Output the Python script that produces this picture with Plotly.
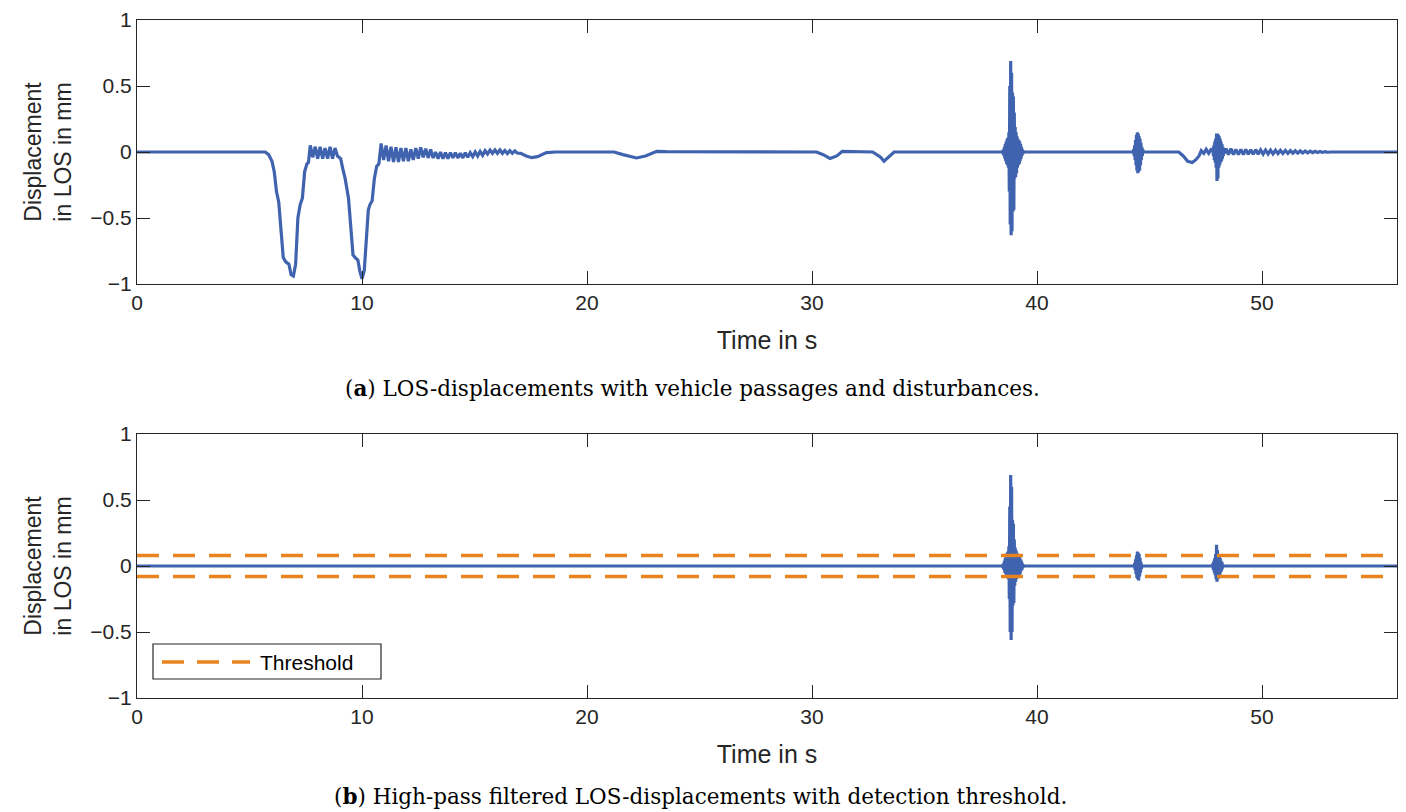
import numpy as np
import plotly.graph_objects as go

# ---------------- data ----------------
# (a) raw LOS displacement, slow parts: time [s], value [mm]
a_slow1_t = [0.0, 5.7, 5.85, 6.0, 6.1, 6.2, 6.3, 6.4, 6.5, 6.6, 6.75, 6.85, 6.95, 7.05, 7.15, 7.25, 7.35, 7.45, 7.55, 7.62]
a_slow1_y = [0.0, 0.0, -0.02, -0.07, -0.15, -0.3, -0.38, -0.6, -0.8, -0.83, -0.85, -0.93, -0.94, -0.85, -0.5, -0.4, -0.35, -0.15, -0.09, -0.08]

# oscillation after first axle group (start, step, values)
a_oscA_t0, a_oscA_dt = 7.7, 0.11
a_oscA_y = [0.05, -0.04, 0.04, -0.05, 0.04, -0.05, 0.03, -0.05, 0.04, -0.05, 0.03, -0.03]

a_slow2_t = [9.05, 9.15, 9.25, 9.4, 9.5, 9.6, 9.7, 9.82, 9.9, 10.0, 10.1, 10.2, 10.28, 10.35, 10.45, 10.55, 10.65, 10.75]
a_slow2_y = [-0.05, -0.13, -0.2, -0.35, -0.6, -0.78, -0.8, -0.82, -0.9, -0.96, -0.9, -0.6, -0.44, -0.4, -0.37, -0.2, -0.11, -0.09]

a_oscB_t0, a_oscB_dt = 10.85, 0.11
a_oscB_y = [0.065, -0.06, 0.05, -0.07, 0.04, -0.075,
            0.035, -0.075, 0.03, -0.07, 0.03, -0.07, 0.02, -0.06, 0.03,
            -0.05, 0.035, -0.04, 0.025, -0.045, 0.02, -0.045,
            0.0, -0.05, 0.0, -0.05, -0.005, -0.05, -0.005, -0.045, -0.005, -0.045, -0.01, -0.045, -0.005, -0.04,
            -0.005, -0.035, 0.0, -0.03, 0.005, -0.025,
            0.01, -0.015, 0.015, -0.01, 0.015, -0.01, 0.015, -0.01, 0.012, -0.012, 0.01, -0.01, 0.008, -0.008]

a_slow3_t = [17.05, 17.3, 17.55, 17.8, 18.2, 18.6, 21.2, 21.6, 22.2, 22.6, 23.1, 23.5, 30.2, 30.5, 30.8, 31.1, 31.35,
             32.7, 32.9, 33.05, 33.2, 33.4, 33.65, 38.43]
a_slow3_y = [-0.01, -0.03, -0.043, -0.035, -0.005, 0.0, 0.0, -0.02, -0.045, -0.03, 0.005, 0.003, 0.0, -0.02, -0.05, -0.03, 0.005,
             0.0, -0.02, -0.04, -0.07, -0.04, 0.0, 0.0]

# disturbance bursts (start, step, values)
a_b1_t0, a_b1_dt = 38.45, 0.02
a_b1_y = [0.0, 0.01, -0.015, 0.02, -0.03, 0.04, -0.05, 0.06, -0.07, 0.08, -0.09, 0.1, -0.1, 0.11, -0.12, 0.15,
          -0.3, 0.5, -0.55, 0.69, -0.63, 0.6, -0.6, 0.45, -0.45, 0.42, -0.44, 0.3, -0.2, 0.19, -0.19, 0.15, -0.16,
          0.12, -0.12, 0.1, -0.1, 0.09, -0.09, 0.08, -0.07, 0.06, -0.05, 0.04, -0.03, 0.02, -0.015, 0.01, -0.005, 0.0]

a_mid1_t = [39.5, 44.26]
a_mid1_y = [0.0, 0.0]

a_b2_t0, a_b2_dt = 44.28, 0.02
a_b2_y = [0.0, 0.02, -0.03, 0.05, -0.06, 0.09, -0.1, 0.13, -0.14, 0.15, -0.16, 0.14, -0.15, 0.12, -0.14, 0.1, -0.1,
          0.07, -0.06, 0.04, -0.03, 0.02, 0.0]

a_slow4_t = [44.8, 46.3, 46.5, 46.7, 46.9, 47.05, 47.2, 47.3, 47.41, 47.52, 47.63, 47.74]
a_slow4_y = [0.0, 0.0, -0.03, -0.07, -0.08, -0.06, -0.03, 0.01, -0.01, 0.02, -0.01, 0.02]

a_b3_t0, a_b3_dt = 47.82, 0.02
a_b3_y = [0.02, -0.03, 0.05, -0.06, 0.08, -0.08, 0.1, -0.12, 0.14, -0.22, 0.14, -0.2, 0.13, -0.12, 0.12, -0.1,
          0.1, -0.08, 0.08, -0.07, 0.06, -0.05, 0.04, -0.03, 0.02, -0.01]

a_oscC_t0, a_oscC_dt = 48.4, 0.11
a_oscC_y = [0.025, -0.02, 0.025, -0.02, 0.02, -0.02, 0.02, -0.02, 0.02, -0.018, 0.018, -0.018, 0.018, -0.016,
            0.016, -0.016, 0.015, -0.015, 0.014, -0.014, 0.013, -0.012, 0.012, -0.011, 0.011, -0.01, 0.01, -0.009,
            0.009, -0.008, 0.008, -0.007, 0.007, -0.006, 0.006, -0.005, 0.005, -0.004, 0.004, -0.003, 0.003, -0.002]

a_end_t = [53.1, 56.0]
a_end_y = [0.0, 0.0]

# (b) high-pass filtered displacement
b_flat1_t = [0.0, 38.43]
b_flat1_y = [0.0, 0.0]
b_b1_t0, b_b1_dt = 38.45, 0.02
b_b1_y = [0.0, 0.01, -0.015, 0.02, -0.03, 0.04, -0.05, 0.06, -0.06, 0.08, -0.08, 0.1, -0.09, 0.11, -0.1, 0.15,
          -0.25, 0.45, -0.5, 0.69, -0.56, 0.6, -0.5, 0.35, -0.3, 0.32, -0.28, 0.2, -0.15, 0.14, -0.12, 0.12, -0.1,
          0.1, -0.09, 0.09, -0.08, 0.08, -0.07, 0.07, -0.06, 0.05, -0.04, 0.04, -0.03, 0.02, -0.015, 0.01, -0.005, 0.0]
b_flat2_t = [39.5, 44.3]
b_flat2_y = [0.0, 0.0]
b_b2_t0, b_b2_dt = 44.32, 0.02
b_b2_y = [0.0, 0.02, -0.03, 0.05, -0.06, 0.08, -0.09, 0.11, -0.1, 0.1, -0.11, 0.09, -0.08, 0.06, -0.05, 0.03, -0.02, 0.0]
b_flat3_t = [44.7, 47.8]
b_flat3_y = [0.0, 0.0]
b_b3_t0, b_b3_dt = 47.82, 0.02
b_b3_y = [0.02, -0.03, 0.04, -0.05, 0.06, -0.07, 0.09, -0.1, 0.16, -0.12, 0.12, -0.1, 0.08, -0.08, 0.07, -0.07,
          0.06, -0.05, 0.04, -0.04, 0.03, -0.02, 0.01, 0.0]
b_flat4_t = [48.35, 56.0]
b_flat4_y = [0.0, 0.0]

threshold = 0.08

x_ticks = [0, 10, 20, 30, 40, 50]
y_ticks = [-1, -0.5, 0, 0.5, 1]

# ---------------- assemble series ----------------
def burst(t0, dt, vals):
    return [t0 + i * dt for i in range(len(vals))], list(vals)

def join(parts):
    T, Y = [], []
    for t, y in parts:
        T += list(t)
        Y += list(y)
    return T, Y

ta, ya = join([
    (a_slow1_t, a_slow1_y), burst(a_oscA_t0, a_oscA_dt, a_oscA_y),
    (a_slow2_t, a_slow2_y), burst(a_oscB_t0, a_oscB_dt, a_oscB_y),
    (a_slow3_t, a_slow3_y), burst(a_b1_t0, a_b1_dt, a_b1_y),
    (a_mid1_t, a_mid1_y), burst(a_b2_t0, a_b2_dt, a_b2_y),
    (a_slow4_t, a_slow4_y), burst(a_b3_t0, a_b3_dt, a_b3_y),
    burst(a_oscC_t0, a_oscC_dt, a_oscC_y), (a_end_t, a_end_y),
])
tb, yb = join([
    (b_flat1_t, b_flat1_y), burst(b_b1_t0, b_b1_dt, b_b1_y),
    (b_flat2_t, b_flat2_y), burst(b_b2_t0, b_b2_dt, b_b2_y),
    (b_flat3_t, b_flat3_y), burst(b_b3_t0, b_b3_dt, b_b3_y),
    (b_flat4_t, b_flat4_y),
])

BLUE = "#4063B0"
ORANGE = "#E8841F"
AX = "#262626"
SANS = "Liberation Sans, Arial, sans-serif"
SERIF = "DejaVu Serif, serif"

# the page adds an 8px body margin; layout below is in reference-window pixels
OFF = 8
W, H = 1406 - OFF, 812 - OFF
ml = 137 - OFF
mt = 20 - OFF
mr = W - (1397 - OFF)
mb = H - (698 - OFF)
ph = H - mt - mb
pw = W - ml - mr

def py(pix):
    return 1 - (pix - OFF - mt) / ph
def px(pix):
    return (pix - OFF - ml) / pw

fig = go.Figure()
fig.add_trace(go.Scatter(x=ta, y=ya, mode="lines", line=dict(color=BLUE, width=3.2),
                         name="LOS displacement", showlegend=False, xaxis="x", yaxis="y"))
fig.add_trace(go.Scatter(x=tb, y=yb, mode="lines", line=dict(color=BLUE, width=3.2),
                         name="High-pass filtered", showlegend=False, xaxis="x2", yaxis="y2"))
for s in (1, -1):
    fig.add_trace(go.Scatter(x=[0, 56], y=[s * threshold, s * threshold], mode="lines",
                             line=dict(color=ORANGE, width=3.5, dash="22px,14px"),
                             name="Threshold", showlegend=False, xaxis="x2", yaxis="y2"))

axis_common = dict(showline=True, linecolor=AX, linewidth=1.2, mirror="ticks", ticks="inside",
                   ticklen=13, tickwidth=1.2, tickcolor=AX, showgrid=False, zeroline=False,
                   automargin=False,
                   tickfont=dict(family=SANS, size=21, color=AX))
xa = dict(axis_common, range=[0, 56], tickvals=x_ticks,
          title=dict(text="Time in s", font=dict(family=SANS, size=25, color=AX), standoff=18))
ya_ = dict(axis_common, range=[-1, 1], tickvals=y_ticks,
           title=dict(text="Displacement<br>in LOS in mm", font=dict(family=SANS, size=23, color=AX), standoff=12))

fig.update_layout(
    width=W, height=H, margin=dict(l=ml, r=mr, t=mt, b=mb, autoexpand=False),
    paper_bgcolor="white", plot_bgcolor="white",
    xaxis=dict(xa, domain=[0, 1], anchor="y"),
    yaxis=dict(ya_, domain=[py(284), 1], anchor="x"),
    xaxis2=dict(xa, domain=[0, 1], anchor="y2"),
    yaxis2=dict(ya_, domain=[0, py(434)], anchor="x2"),
    showlegend=False,
)

# captions
fig.add_annotation(text="(<b>a</b>) LOS-displacements with vehicle passages and disturbances.",
                   x=px(692), y=py(388), xref="paper", yref="paper", showarrow=False,
                   xanchor="center", yanchor="middle",
                   font=dict(family=SERIF, size=21.5, color="black"))
fig.add_annotation(text="(<b>b</b>) High-pass filtered LOS-displacements with detection threshold.",
                   x=px(700), y=py(796), xref="paper", yref="paper", showarrow=False,
                   xanchor="center", yanchor="middle",
                   font=dict(family=SERIF, size=21.5, color="black"))

# legend box (drawn to match the reference's long dashed sample)
fig.add_shape(type="rect", xref="paper", yref="paper", x0=px(153), x1=px(381), y0=py(679), y1=py(644),
              line=dict(color=AX, width=1.2), fillcolor="white", layer="above")
fig.add_shape(type="line", xref="paper", yref="paper", x0=px(162), x1=px(250), y0=py(662), y1=py(662),
              line=dict(color=ORANGE, width=3.5, dash="22px,13px"), layer="above")
fig.add_annotation(text="Threshold", x=px(258), y=py(662), xref="paper", yref="paper", showarrow=False,
                   xanchor="left", yanchor="middle", font=dict(family=SANS, size=21, color="black"))

fig.write_html("out.html")
